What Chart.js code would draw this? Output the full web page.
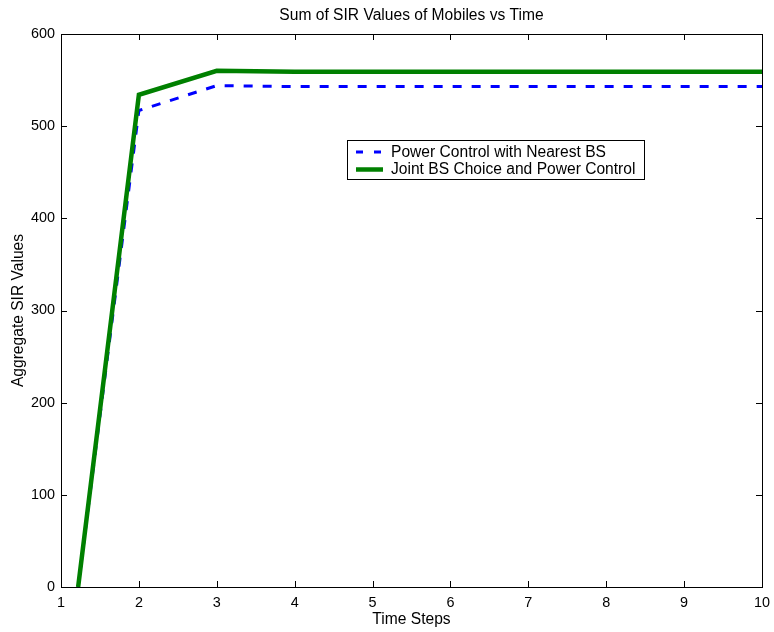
<!DOCTYPE html>
<html>
<head>
<meta charset="utf-8">
<script src="https://cdn.jsdelivr.net/npm/chart.js@4/dist/chart.umd.min.js"></script>
<style>
  html, body { margin: 0; padding: 0; background: #fff; }
  #wrap { width: 774px; height: 632px; }
</style>
</head>
<body>
<div id="wrap"><canvas id="c" width="774" height="632"></canvas></div>
<script>
// Time steps at which each series is sampled
const timeSteps = [1.22, 2, 3, 4, 5, 6, 7, 8, 9, 10];
// Aggregate SIR, power control with nearest base station
const nearestBS = [0, 517, 544, 543, 543, 543, 543, 543, 543, 543];
// Aggregate SIR, joint base-station choice and power control
const jointBS = [0, 534, 560, 559, 559, 559, 559, 559, 559, 559];
const xTicks = [1, 2, 3, 4, 5, 6, 7, 8, 9, 10];
const yTicks = [0, 100, 200, 300, 400, 500, 600];

const FONT = 'Liberation Sans, Arial, Helvetica, sans-serif';
const TEXT_SIZE = 15.6;
const TICK_SIZE = 14.4;

const pts = (xs, ys) => xs.map((x, i) => ({ x: x, y: ys[i] }));

// Frame, inward ticks, titles and an in-plot legend
const decor = {
  id: 'decor',
  afterDraw(chart) {
    const { ctx, chartArea: a, scales } = chart;
    const xs = scales.x, ys = scales.y;
    ctx.save();
    ctx.strokeStyle = '#000';
    ctx.lineWidth = 1;
    ctx.strokeRect(Math.round(a.left) + 0.5, Math.round(a.top) + 0.5,
                   Math.round(a.right - a.left), Math.round(a.bottom - a.top));
    const tl = 6;
    ctx.beginPath();
    xTicks.forEach(v => {
      const px = Math.round(xs.getPixelForValue(v)) + 0.5;
      ctx.moveTo(px, a.bottom); ctx.lineTo(px, a.bottom - tl);
      ctx.moveTo(px, a.top); ctx.lineTo(px, a.top + tl);
    });
    yTicks.forEach(v => {
      const py = Math.round(ys.getPixelForValue(v)) + 0.5;
      ctx.moveTo(a.left, py); ctx.lineTo(a.left + tl, py);
      ctx.moveTo(a.right, py); ctx.lineTo(a.right - tl, py);
    });
    ctx.stroke();

    // titles
    ctx.fillStyle = '#000';
    ctx.font = TEXT_SIZE + 'px ' + FONT;
    ctx.textAlign = 'center';
    ctx.textBaseline = 'middle';
    const cx = (a.left + a.right) / 2;
    ctx.fillText('Sum of SIR Values of Mobiles vs Time', cx, 16);
    ctx.fillText('Time Steps', cx, 620);
    ctx.save();
    ctx.translate(19, (a.top + a.bottom) / 2);
    ctx.rotate(-Math.PI / 2);
    ctx.fillText('Aggregate SIR Values', 0, 0);
    ctx.restore();

    // legend box
    const lx = 347, ly = 140, lw = 297, lh = 39;
    ctx.fillStyle = '#fff';
    ctx.fillRect(lx, ly, lw, lh);
    ctx.strokeRect(lx + 0.5, ly + 0.5, lw, lh);
    const rows = [ly + 12, ly + 29.5];
    chart.data.datasets.forEach((ds, i) => {
      const y = rows[i];
      ctx.save();
      ctx.strokeStyle = ds.borderColor;
      ctx.lineWidth = ds.borderWidth;
      ctx.setLineDash(ds.borderDash ? [7, 11] : []);
      ctx.beginPath();
      ctx.moveTo(356, y); ctx.lineTo(383, y);
      ctx.stroke();
      ctx.restore();
      ctx.fillStyle = '#000';
      ctx.textAlign = 'left';
      ctx.textBaseline = 'middle';
      ctx.fillText(ds.label, 391, y + 0.5);
    });
    ctx.restore();
  }
};

new Chart(document.getElementById('c'), {
  type: 'line',
  data: {
    datasets: [
      {
        label: 'Power Control with Nearest BS',
        data: pts(timeSteps, nearestBS),
        borderColor: '#0000ff',
        borderWidth: 3,
        borderDash: [9, 10],
        pointRadius: 0,
        tension: 0,
        fill: false,
        order: 1
      },
      {
        label: 'Joint BS Choice and Power Control',
        data: pts(timeSteps, jointBS),
        borderColor: '#008000',
        borderWidth: 4.5,
        pointRadius: 0,
        tension: 0,
        fill: false,
        order: 0
      }
    ]
  },
  options: {
    responsive: false,
    animation: false,
    layout: { padding: { top: 34, right: 12, left: 0, bottom: 0 } },
    plugins: { legend: { display: false }, title: { display: false }, tooltip: { enabled: false } },
    scales: {
      x: {
        type: 'linear', min: 1, max: 10,
        afterFit(s) { s.height = 45; s.paddingLeft = 0; s.paddingRight = 0; },
        afterBuildTicks(s) { s.ticks = xTicks.map(v => ({ value: v })); },
        grid: { display: false, drawTicks: false },
        border: { display: false },
        ticks: { color: '#000', padding: 7, font: { family: FONT, size: TICK_SIZE }, maxRotation: 0 }
      },
      y: {
        type: 'linear', min: 0, max: 600,
        afterFit(s) { s.width = 61; s.paddingTop = 0; s.paddingBottom = 0; },
        afterBuildTicks(s) { s.ticks = yTicks.map(v => ({ value: v })); },
        grid: { display: false, drawTicks: false },
        border: { display: false },
        ticks: { color: '#000', padding: 6, font: { family: FONT, size: TICK_SIZE } }
      }
    }
  },
  plugins: [decor]
});
</script>
</body>
</html>
